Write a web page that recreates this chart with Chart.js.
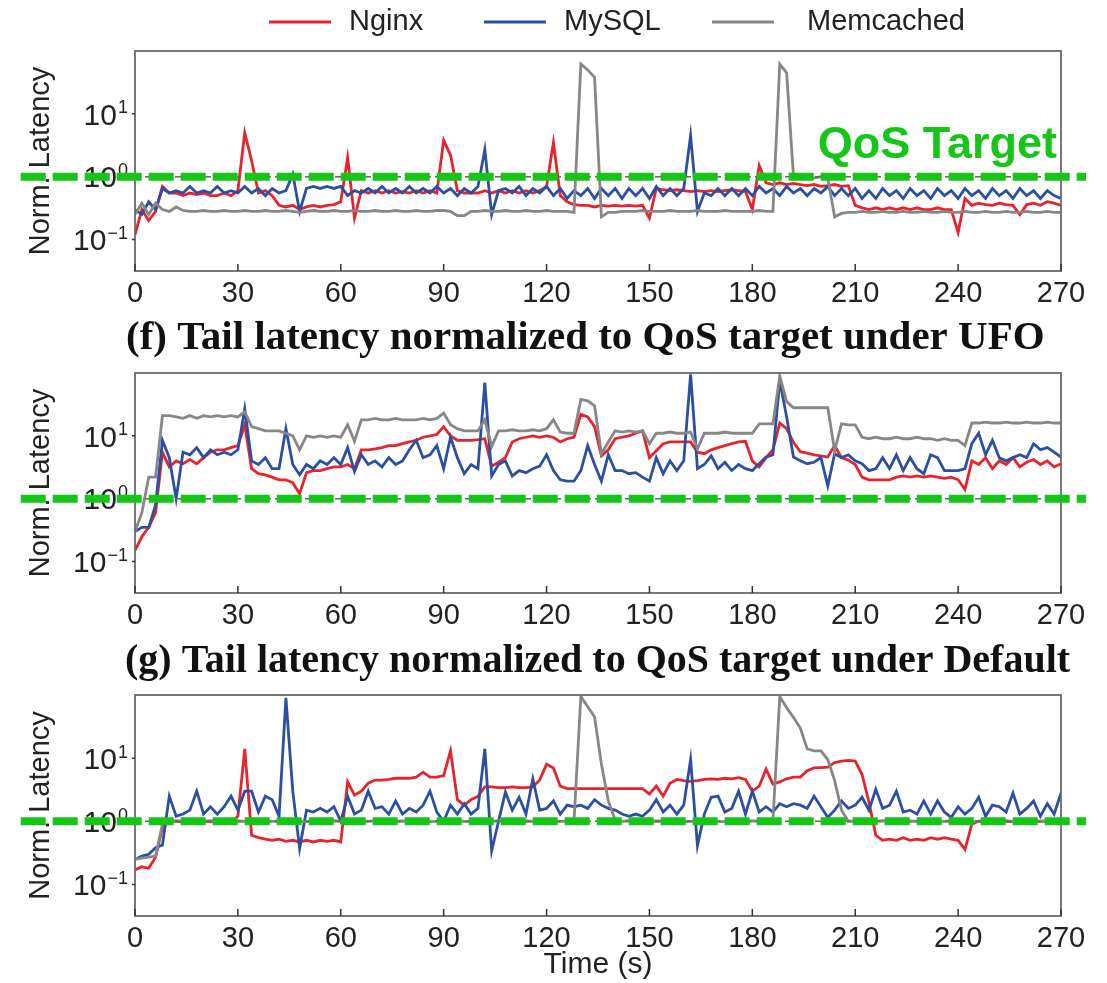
<!DOCTYPE html>
<html>
<head>
<meta charset="utf-8">
<script src="https://cdn.jsdelivr.net/npm/chart.js@4.4.1/dist/chart.umd.min.js"></script>
<style>
  html, body { margin: 0; padding: 0; background: #fff; width: 1107px; height: 983px; overflow: hidden; }
  .panel { position: absolute; left: 0; }
</style>
</head>
<body>
<div class="panel" style="top:0;width:1170px;height:311px"><canvas id="c1"></canvas></div>
<div class="panel" style="top:300px;width:1170px;height:333px"><canvas id="c2"></canvas></div>
<div class="panel" style="top:620px;width:1170px;height:363px"><canvas id="c3"></canvas></div>
<script>
// sample every 2 s, 0..270
const SAMPLE_STEP = 2;
const times = [];
for (let t = 0; t <= 270; t += SAMPLE_STEP) times.push(t);

const seriesNames = ['Nginx', 'MySQL', 'Memcached'];
const xTicks = [0, 30, 60, 90, 120, 150, 180, 210, 240, 270];
const yTickValues = [0.1, 1, 10];
const yTickExponents = ['\u22121', '0', '1'];
const QOS_TARGET = 1;

// top panel
const p1Nginx = [
  0.12, 0.3, 0.2, 0.28, 0.7, 0.55, 0.55, 0.5, 0.55, 0.52,
  0.55, 0.5, 0.5, 0.55, 0.5, 0.6, 5.0, 1.8, 0.55, 0.6,
  0.5, 0.35, 0.33, 0.35, 0.3, 0.33, 0.35, 0.33, 0.35, 0.36,
  0.4, 2.0, 0.22, 0.6, 0.55, 0.6, 0.55, 0.6, 0.55, 0.58,
  0.55, 0.6, 0.55, 0.6, 0.55, 3.8, 2.2, 0.6, 0.55, 0.55,
  0.55, 0.6, 0.55, 0.6, 0.55, 0.6, 0.55, 0.6, 0.55, 0.6,
  0.7, 3.5, 0.5, 0.4, 0.36, 0.35, 0.35, 0.33, 0.35, 0.34,
  0.35, 0.34, 0.35, 0.34, 0.35, 0.22, 0.65, 0.62, 0.6, 0.62,
  0.6, 0.58, 0.6, 0.58, 0.6, 0.58, 0.6, 0.62, 0.6, 0.58,
  0.3, 1.5, 0.8, 0.75, 0.8, 0.75, 0.78, 0.75, 0.72, 0.75,
  0.7, 0.72, 0.75, 0.7, 0.72, 0.35, 0.32, 0.3, 0.32, 0.3,
  0.32, 0.3, 0.32, 0.3, 0.32, 0.3, 0.3, 0.32, 0.3, 0.3,
  0.13, 0.45, 0.35, 0.38, 0.36, 0.35, 0.38, 0.36, 0.35, 0.25,
  0.36, 0.38, 0.35, 0.4, 0.38, 0.35
];
const p1MySQL = [
  0.3, 0.25, 0.4, 0.3, 0.65, 0.55, 0.6, 0.55, 0.7, 0.55,
  0.6, 0.55, 0.7, 0.55, 0.6, 0.55, 0.7, 0.55, 0.65, 0.5,
  0.65, 0.55, 0.6, 1.1, 0.28, 0.65, 0.7, 0.65, 0.7, 0.65,
  0.7, 0.5, 0.6, 0.55, 0.65, 0.55, 0.7, 0.55, 0.65, 0.55,
  0.7, 0.55, 0.65, 0.55, 0.7, 0.55, 0.65, 0.5, 0.65, 0.55,
  0.7, 2.7, 0.25, 0.6, 0.65, 0.55, 0.7, 0.5, 0.65, 0.55,
  0.7, 0.5, 0.65, 0.45, 0.6, 0.5, 0.65, 0.45, 0.65, 0.5,
  0.65, 0.45, 0.65, 0.5, 0.65, 0.45, 0.7, 0.5, 0.65, 0.5,
  0.65, 4.5, 0.28, 0.55, 0.5, 0.65, 0.5, 0.65, 0.5, 0.65,
  0.5, 0.7, 0.55, 0.65, 0.5, 0.7, 0.55, 0.65, 0.5, 0.65,
  0.55, 0.7, 0.5, 0.65, 0.5, 0.65, 0.45, 0.6, 0.45, 0.65,
  0.5, 0.6, 0.45, 0.65, 0.5, 0.6, 0.45, 0.65, 0.5, 0.6,
  0.45, 0.65, 0.5, 0.6, 0.45, 0.65, 0.5, 0.6, 0.45, 0.65,
  0.5, 0.6, 0.45, 0.6, 0.5, 0.45
];
const p1Memcached = [
  0.25, 0.38, 0.25, 0.38, 0.3, 0.28, 0.33, 0.29, 0.28, 0.28,
  0.29, 0.28, 0.28, 0.29, 0.28, 0.28, 0.29, 0.28, 0.28, 0.29,
  0.28, 0.28, 0.29, 0.28, 0.27, 0.28, 0.29, 0.28, 0.28, 0.29,
  0.28, 0.28, 0.29, 0.28, 0.28, 0.29, 0.28, 0.28, 0.29, 0.28,
  0.28, 0.29, 0.28, 0.28, 0.29, 0.29, 0.28, 0.24, 0.24, 0.28,
  0.28, 0.29, 0.28, 0.28, 0.29, 0.28, 0.28, 0.29, 0.28, 0.28,
  0.29, 0.28, 0.28, 0.28, 0.27, 62, 50, 38, 0.23, 0.27,
  0.27, 0.28, 0.28, 0.28, 0.29, 0.28, 0.28, 0.28, 0.29, 0.28,
  0.28, 0.28, 0.29, 0.28, 0.28, 0.28, 0.29, 0.28, 0.28, 0.28,
  0.28, 0.29, 0.28, 0.28, 62, 45, 1.0, 0.95, 1.0, 0.95,
  1.0, 0.95, 0.23, 0.26, 0.27, 0.27, 0.28, 0.27, 0.27, 0.28,
  0.27, 0.27, 0.28, 0.27, 0.27, 0.28, 0.27, 0.27, 0.28, 0.27,
  0.27, 0.28, 0.27, 0.27, 0.28, 0.27, 0.27, 0.28, 0.27, 0.27,
  0.28, 0.27, 0.27, 0.28, 0.27, 0.27
];

// (f) UFO
const p2Nginx = [
  0.15, 0.25, 0.35, 0.6, 5.5, 3.2, 4.0, 3.6, 4.2, 3.6,
  4.5, 5.5, 6.0, 6.0, 6.5, 7.0, 15, 3.0, 2.5, 2.4,
  2.2, 2.0, 2.0, 1.8, 1.2, 2.6, 2.8, 2.8, 3.0, 3.2,
  3.2, 3.5, 3.0, 6.0, 6.0, 6.2, 6.5, 7.0, 7.0, 7.5,
  8.0, 8.5, 9.5, 10, 10.5, 14, 10, 8.5, 8.5, 8.5,
  8.7, 9.0, 3.3, 3.8, 4.5, 8.0, 9.0, 9.5, 10, 9.5,
  10, 9.5, 8.0, 9.0, 9.5, 22, 20, 14, 4.8, 6.0,
  9.0, 9.5, 10, 11, 12, 4.5, 5.8, 7.5, 8.0, 8.0,
  8.0, 8.0, 5.5, 5.2, 6.0, 6.5, 7.0, 7.5, 8.0, 8.2,
  4.0, 3.2, 4.5, 6.0, 16, 13, 7.9, 5.6, 5.3, 5.0,
  4.8, 4.6, 7.0, 4.5, 4.1, 3.5, 2.2, 2.0, 2.0, 2.0,
  2.0, 2.2, 2.3, 2.2, 2.3, 2.2, 2.3, 2.2, 2.1, 2.2,
  2.0, 1.4, 4.0, 3.5, 4.5, 3.0, 4.0, 3.5, 4.5, 3.2,
  3.8, 4.2, 3.5, 4.0, 3.2, 3.6
];
const p2MySQL = [
  0.3, 0.35, 0.35, 0.8, 8.5, 4.5, 1.0, 5.5, 5.0, 6.5,
  4.5, 6.0, 5.0, 5.5, 5.0, 6.0, 27, 4.0, 3.5, 4.5,
  3.0, 3.0, 13, 3.5, 2.4, 3.5, 3.0, 4.0, 3.5, 4.5,
  3.5, 6.5, 2.7, 5.0, 3.5, 4.0, 3.2, 4.5, 3.5, 4.0,
  6.0, 8.5, 4.5, 5.0, 7.0, 3.0, 9.5, 4.5, 2.5, 3.5,
  3.0, 70, 2.3, 3.5, 4.0, 2.3, 2.8, 2.6, 3.0, 3.3,
  5.0, 2.8, 2.0, 1.9, 1.9, 2.8, 7.0, 3.5, 1.9, 5.0,
  2.8, 2.8, 2.5, 2.6, 2.2, 1.9, 4.5, 2.5, 4.0, 2.8,
  4.0, 95, 3.0, 3.5, 4.8, 3.0, 3.8, 2.8, 3.5, 3.0,
  2.8, 3.6, 4.6, 5.0, 75, 20, 4.6, 4.0, 3.6, 3.8,
  4.5, 1.6, 5.2, 4.5, 5.0, 4.0, 3.6, 2.8, 3.0, 4.5,
  3.0, 5.0, 2.8, 4.5, 3.0, 2.5, 5.0, 4.5, 2.8, 2.8,
  2.8, 3.0, 7.5, 11, 5.0, 8.5, 4.5, 4.0, 4.5, 5.0,
  4.5, 7.5, 6.0, 6.5, 5.5, 4.6
];
const p2Memcached = [
  0.3, 0.6, 2.2, 2.2, 21, 21, 20, 19, 21, 19,
  21, 20, 21, 20, 21, 20, 24, 14, 13, 12,
  12, 12, 11, 10, 6.0, 10, 9.5, 10, 9.5, 10,
  9.5, 15, 8.2, 18, 18, 19, 18, 18, 19, 18,
  18, 18, 19, 18, 19, 23, 15, 13, 12, 12,
  12, 18, 6.8, 12, 12, 12.5, 12, 12, 12.5, 12,
  13, 18, 11.5, 11, 11, 38, 36, 30, 5.2, 8.0,
  12, 11.5, 12, 11.5, 12, 7.5, 11, 11, 11.5, 11,
  11, 11.5, 6.2, 11, 11, 11, 11.5, 11, 11, 11,
  11, 15.5, 15.5, 15.5, 90, 35, 28, 28, 28, 28,
  28, 28, 5.8, 15.5, 15, 15, 9.5, 9.0, 9.5, 9.0,
  9.0, 9.5, 9.0, 9.0, 9.5, 9.0, 9.0, 8.5, 9.0, 8.5,
  8.5, 7.0, 16, 16, 16.5, 16, 16, 16.5, 16, 16,
  16.5, 16, 16, 16.5, 16, 16
];

// (g) Default
const p3Nginx = [
  0.17, 0.19, 0.18, 0.27, 0.8, 1.0, 1.0, 0.98, 1.0, 0.98,
  1.0, 0.98, 1.0, 1.0, 0.98, 1.2, 14, 0.6, 0.55, 0.52,
  0.5, 0.52, 0.48, 0.5, 0.47, 0.5, 0.47, 0.5, 0.48, 0.5,
  0.47, 4.2, 2.6, 3.0, 4.0, 4.5, 4.5, 4.6, 4.8, 4.8,
  4.8, 5.0, 6.0, 5.0, 5.0, 5.3, 13, 2.2, 1.8, 2.2,
  2.5, 3.5, 3.5, 3.4, 3.4, 3.5, 3.4, 3.4, 3.5, 4.5,
  8.0, 7.0, 3.6, 3.3, 3.3, 3.3, 3.3, 3.3, 3.3, 3.3,
  3.3, 3.3, 3.3, 3.3, 3.3, 2.7, 3.6, 2.5, 4.0, 4.6,
  4.4, 4.3, 4.4, 4.6, 4.7, 4.6, 4.8, 4.7, 4.9, 4.6,
  3.0, 3.6, 6.7, 3.9, 4.2, 4.7, 5.0, 5.0, 6.3, 7.0,
  7.1, 7.2, 8.5, 9.0, 9.2, 9.0, 5.5, 2.0, 0.6, 0.5,
  0.52, 0.5, 0.55, 0.5, 0.52, 0.5, 0.55, 0.52, 0.55, 0.52,
  0.5, 0.36, 0.9, 1.0, 1.0, 0.98, 1.0, 1.0, 0.98, 1.0,
  1.0, 0.98, 1.0, 1.0, 0.98, 1.0
];
const p3MySQL = [
  0.25, 0.28, 0.3, 0.38, 0.42, 2.5, 1.2, 1.3, 1.5, 3.0,
  1.3, 1.7, 1.3, 1.7, 2.5, 1.5, 3.0, 3.0, 1.4, 2.5,
  2.2, 1.2, 90, 3.0, 0.37, 1.5, 1.4, 1.6, 1.4, 1.7,
  1.0, 2.5, 1.3, 1.5, 3.0, 1.6, 1.7, 1.3, 2.1, 1.3,
  1.6, 1.4, 1.8, 3.0, 1.4, 1.0, 1.8, 1.3, 1.9, 1.3,
  1.6, 14, 0.34, 1.0, 2.9, 1.5, 2.4, 1.3, 4.7, 1.5,
  1.6, 2.1, 1.3, 1.8, 1.7, 1.8, 1.6, 2.2, 1.8, 1.6,
  1.5, 1.3, 1.2, 1.3, 1.2, 1.5, 2.2, 1.4, 1.8, 1.3,
  1.8, 9.5, 0.41, 1.3, 2.4, 2.5, 1.4, 1.6, 3.0, 1.3,
  3.0, 1.4, 1.7, 1.4, 1.9, 1.7, 1.9, 1.8, 1.6, 2.5,
  1.7, 1.15, 1.5, 2.1, 1.6, 1.8, 2.4, 1.5, 3.2, 1.6,
  1.8, 3.0, 1.4, 1.5, 1.3, 2.1, 1.3, 2.1, 1.4, 1.15,
  1.7, 1.3, 1.6, 2.4, 1.2, 1.8, 1.7, 1.4, 2.8, 1.3,
  1.6, 2.1, 1.2, 1.9, 1.3, 2.8
];
const p3Memcached = [
  0.25, 0.26, 0.27, 0.28, 0.9, 1.0, 1.02, 1.0, 0.99, 1.01,
  1.0, 1.02, 1.0, 0.99, 1.0, 1.01, 1.0, 1.02, 1.0, 0.99,
  1.0, 1.01, 1.0, 1.02, 1.0, 0.99, 1.0, 1.01, 1.0, 1.02,
  1.0, 0.99, 1.0, 1.01, 1.0, 1.02, 1.0, 0.99, 1.0, 1.01,
  1.0, 1.02, 1.0, 0.99, 1.0, 1.01, 1.0, 1.02, 1.0, 0.99,
  1.0, 1.01, 1.0, 1.02, 1.0, 0.99, 1.0, 1.01, 1.0, 1.02,
  1.0, 0.99, 1.0, 1.01, 1.0, 95, 65, 45, 8.0, 2.1,
  1.05, 1.0, 1.02, 1.0, 0.99, 1.0, 1.01, 1.0, 1.02, 1.0,
  0.99, 1.0, 1.01, 1.0, 1.02, 1.0, 0.99, 1.0, 1.01, 1.0,
  1.02, 1.0, 0.99, 1.0, 95, 63, 44, 30, 14, 13,
  13, 9.5, 4.4, 1.5, 1.0, 1.01, 1.0, 0.99, 1.0, 1.02,
  1.0, 0.99, 1.0, 1.01, 1.0, 1.02, 1.0, 0.99, 1.0, 1.01,
  1.0, 1.02, 1.0, 0.99, 1.0, 1.01, 1.0, 1.02, 1.0, 0.99,
  1.0, 1.01, 1.0, 1.02, 1.0, 0.99
];

const RED = '#e8232b';
const BLUE = '#2b4fa3';
const GRAY = '#878787';
const GREEN = '#16c616';
const SANS = "'Liberation Sans', Arial, Helvetica, sans-serif";
const SERIF = "'Liberation Serif', 'Times New Roman', serif";
const seriesColors = [RED, BLUE, GRAY];

Chart.defaults.font.family = SANS;
Chart.defaults.color = '#222';

function points(values) {
  return values.map((v, i) => ({ x: times[i], y: v }));
}

function makeDatasets(nginx, mysql, memcached) {
  const line = (label, values, color, order) => ({
    label: label, data: points(values), borderColor: color, backgroundColor: color,
    borderWidth: 2.8, pointRadius: 0, tension: 0, order: order
  });
  return [
    { label: 'target', data: [{ x: 0, y: QOS_TARGET }, { x: 270, y: QOS_TARGET }],
      borderColor: '#666', borderWidth: 1.5, borderDash: [6, 4], pointRadius: 0, order: 0 },
    line(seriesNames[2], memcached, GRAY, 1),
    line(seriesNames[1], mysql, BLUE, 2),
    line(seriesNames[0], nginx, RED, 3)
  ];
}

// frame round the axes, small tick marks and the 10^n labels
const frame = {
  id: 'frame',
  afterDatasetsDraw(chart) {
    const { ctx, chartArea: a, scales: { x, y } } = chart;
    ctx.save();
    ctx.strokeStyle = '#6a6a6a';
    ctx.lineWidth = 1.8;
    ctx.strokeRect(a.left, a.top, a.right - a.left, a.bottom - a.top);
    ctx.strokeStyle = '#333';
    ctx.lineWidth = 1.5;
    ctx.beginPath();
    x.ticks.forEach(t => {
      const px = x.getPixelForValue(t.value);
      ctx.moveTo(px, a.bottom);
      ctx.lineTo(px, a.bottom - 7);
    });
    y.ticks.forEach(t => {
      const py = y.getPixelForValue(t.value);
      ctx.moveTo(a.left - 3, py);
      ctx.lineTo(a.left, py);
    });
    ctx.stroke();

    ctx.fillStyle = '#222';
    ctx.textBaseline = 'alphabetic';
    ctx.textAlign = 'left';
    const right = a.left - 7;
    yTickValues.forEach((v, i) => {
      const py = y.getPixelForValue(v);
      ctx.font = '18px ' + SANS;
      const ew = ctx.measureText(yTickExponents[i]).width;
      ctx.font = '30px ' + SANS;
      const bw = ctx.measureText('10').width;
      ctx.fillText('10', right - ew - bw - 1, py + 10.7);
      ctx.font = '18px ' + SANS;
      ctx.fillText(yTickExponents[i], right - ew, py - 0.5);
    });
    ctx.restore();
  }
};

// the thick green QoS line across the whole figure
const qosLine = {
  id: 'qosLine',
  afterDraw(chart) {
    const { ctx } = chart;
    const py = chart.scales.y.getPixelForValue(QOS_TARGET);
    ctx.save();
    ctx.strokeStyle = GREEN;
    ctx.lineWidth = 8;
    ctx.setLineDash([25, 7]);
    ctx.beginPath();
    ctx.moveTo(20.7, py);
    ctx.lineTo(1086, py);
    ctx.stroke();
    ctx.restore();
  }
};

// panel caption above the axes
const panelTitle = {
  id: 'panelTitle',
  afterDraw(chart, args, opts) {
    if (!opts.text) return;
    const { ctx } = chart;
    ctx.save();
    ctx.font = 'bold ' + opts.size + 'px ' + SERIF;
    ctx.fillStyle = '#111';
    ctx.textAlign = 'left';
    ctx.textBaseline = 'middle';
    ctx.fillText(opts.text, opts.x, opts.y);
    ctx.restore();
  }
};

// legend and the QoS label on the top panel
const topDecor = {
  id: 'topDecor',
  afterDraw(chart) {
    const { ctx } = chart;
    const items = [
      { x: 269, tx: 349 },
      { x: 484, tx: 564 },
      { x: 712, tx: 807 }
    ];
    ctx.save();
    ctx.font = '29px ' + SANS;
    ctx.textBaseline = 'middle';
    ctx.fillStyle = '#222';
    items.forEach((it, i) => {
      ctx.strokeStyle = seriesColors[i];
      ctx.lineWidth = 3;
      ctx.beginPath();
      ctx.moveTo(it.x, 22);
      ctx.lineTo(it.x + 62, 22);
      ctx.stroke();
      ctx.fillText(seriesNames[i], it.tx, 22);
    });
    ctx.font = 'bold 45px ' + SANS;
    ctx.fillStyle = GREEN;
    ctx.textAlign = 'right';
    ctx.textBaseline = 'alphabetic';
    ctx.fillText('QoS Target', 1057, 158);
    ctx.restore();
  }
};

function makeChart(id, nginx, mysql, memcached, opts) {
  return new Chart(document.getElementById(id), {
    type: 'line',
    data: { datasets: makeDatasets(nginx, mysql, memcached) },
    options: {
      responsive: true,
      maintainAspectRatio: false,
      animation: false,
      events: [],
      layout: { padding: { top: opts.padTop, right: 109, left: 0, bottom: 0 } },
      plugins: {
        legend: { display: false },
        tooltip: { enabled: false },
        title: { display: false },
        panelTitle: opts.title || {}
      },
      scales: {
        x: {
          type: 'linear', min: 0, max: 270,
          afterBuildTicks: s => { s.ticks = xTicks.map(v => ({ value: v })); },
          ticks: { font: { size: 29 }, color: '#222', padding: 6, maxRotation: 0, autoSkip: false },
          grid: { display: false, drawTicks: false },
          border: { display: false },
          title: opts.xTitle ? { display: true, text: opts.xTitle, font: { size: 30 }, color: '#222', padding: { top: 0, bottom: 0 } } : { display: false },
          afterFit: s => { s.height = opts.xHeight; }
        },
        y: {
          type: 'logarithmic', min: 0.0316, max: 100,
          afterBuildTicks: s => { s.ticks = yTickValues.map(v => ({ value: v })); },
          ticks: { display: false },
          grid: { display: false, drawTicks: false },
          border: { display: false },
          title: { display: true, text: 'Norm. Latency', font: { size: 29 }, color: '#222', padding: { top: 24, bottom: 0 } },
          afterFit: s => { s.width = 135; }
        }
      }
    },
    plugins: opts.plugins
  });
}

makeChart('c1', p1Nginx, p1MySQL, p1Memcached, {
  padTop: 51, xHeight: 40, plugins: [frame, qosLine, topDecor]
});
makeChart('c2', p2Nginx, p2MySQL, p2Memcached, {
  padTop: 73, xHeight: 40, plugins: [frame, qosLine, panelTitle],
  title: { text: '(f) Tail latency normalized to QoS target under UFO', size: 41, x: 126, y: 38 }
});
makeChart('c3', p3Nginx, p3MySQL, p3Memcached, {
  padTop: 75, xHeight: 67, xTitle: 'Time (s)', plugins: [frame, qosLine, panelTitle],
  title: { text: '(g) Tail latency normalized to QoS target under Default', size: 40, x: 125, y: 42 }
});
</script>
</body>
</html>
